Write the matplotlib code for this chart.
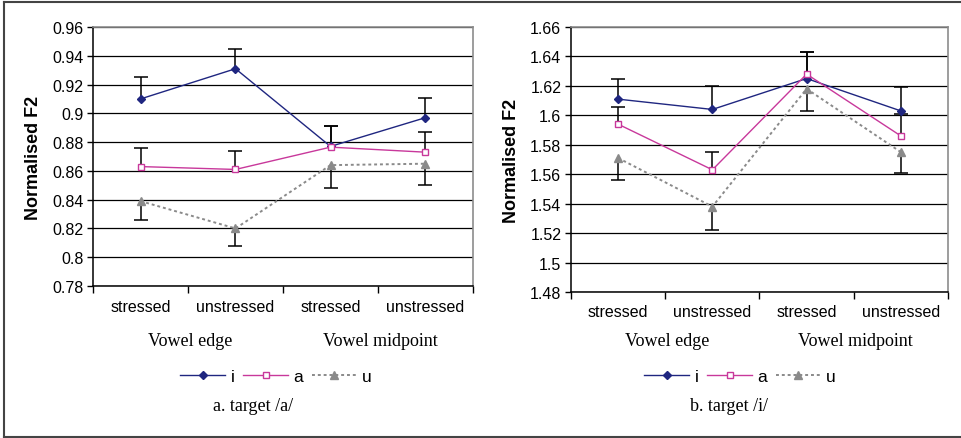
import matplotlib
matplotlib.use("Agg")
import matplotlib.pyplot as plt
import matplotlib.transforms as mtrans
from matplotlib.ticker import FuncFormatter, MultipleLocator
import numpy as np

# categories
conditions = ["stressed", "unstressed", "stressed", "unstressed"]
groups = ["Vowel edge", "Vowel midpoint"]
vowels = ["i", "a", "u"]

# panel a: target /a/
a_i = [0.910, 0.931, 0.877, 0.897]
a_i_err = [0.015, 0.014, 0.014, 0.014]
a_a = [0.863, 0.861, 0.8765, 0.873]
a_a_err = [0.013, 0.013, 0.0145, 0.014]
a_u = [0.839, 0.820, 0.864, 0.865]
a_u_err = [0.013, 0.012, 0.016, 0.015]

# panel b: target /i/
b_i = [1.611, 1.604, 1.625, 1.603]
b_i_err = [0.014, 0.016, 0.018, 0.016]
b_a = [1.594, 1.563, 1.628, 1.586]
b_a_err = [0.012, 0.012, 0.015, 0.015]
b_u = [1.571, 1.538, 1.618, 1.575]
b_u_err = [0.015, 0.016, 0.015, 0.014]

NAVY = "#1f2680"
PINK = "#c8389b"
GREY = "#8a8a8a"

sans = ["Liberation Sans", "DejaVu Sans"]
serif = ["Liberation Serif", "DejaVu Serif"]


def draw_panel(ax, data, errs, ylim, pad, caption, cx, cap_x):
    x = np.arange(len(conditions)) + 0.5
    styles = [
        dict(color=NAVY, marker="D", markersize=4.5, mfc=NAVY, mec=NAVY, lw=1.0, ls="-"),
        dict(color=PINK, marker="s", markersize=5, mfc="white", mec=PINK, mew=1.0, lw=1.0, ls="-"),
        dict(color=GREY, marker="^", markersize=6, mfc=GREY, mec=GREY, lw=1.4, ls=(0, (1.5, 1.5))),
    ]
    handles = []
    for k, (vals, err, st) in enumerate(zip(data, errs, styles)):
        zero = [0] * len(err)
        # i and a have plus-only bars, u has minus-only bars
        yerr = [zero, err] if k < 2 else [err, zero]
        _, caps, _ = ax.errorbar(x, vals, yerr=yerr, fmt="none", ecolor="black",
                                 elinewidth=1.1, capsize=5, capthick=1.1, zorder=3)
        # hide the cap sitting on the marker
        caps[0 if k < 2 else 1].set_visible(False)
        h, = ax.plot(x, vals, zorder=4, label=vowels[k], **st)
        handles.append(h)

    ax.set_xlim(0, 4)
    ax.set_ylim(*ylim)
    ax.yaxis.set_major_locator(MultipleLocator(0.02))
    ax.yaxis.set_major_formatter(FuncFormatter(lambda v, p: f"{round(v, 2):g}"))
    ax.grid(axis="y", color="black", lw=0.9)
    ax.set_axisbelow(True)

    ax.set_xticks([0, 1, 2, 3, 4])
    ax.set_xticklabels([])
    ax.set_xticks(x, minor=True)
    ax.set_xticklabels(conditions, minor=True, fontsize=11.5, family=sans)
    ax.tick_params(axis="x", which="major", direction="out", length=5, width=1)
    ax.tick_params(axis="x", which="minor", length=0, pad=pad)
    ax.tick_params(axis="y", direction="out", length=4, width=1, labelsize=11.5, pad=3)
    for lab in ax.get_yticklabels():
        lab.set_family(sans)

    for s in ["top", "right"]:
        ax.spines[s].set_color("#8c8c8c")
        ax.spines[s].set_linewidth(1.2)
    for s in ["left", "bottom"]:
        ax.spines[s].set_color("black")
        ax.spines[s].set_linewidth(1.1)

    ax.set_ylabel("Normalised F2", fontsize=13, fontweight="bold", family=sans, labelpad=7)

    tr = mtrans.blended_transform_factory(ax.transData, fig.transFigure)
    for gx, g in zip([1.02, 3.02], groups):
        ax.text(gx, 1 - 342 / 439, g, transform=tr, ha="center", va="center",
                fontsize=13, family=serif)

    fig.legend(handles=handles, loc="center", bbox_to_anchor=(cx, 1 - 377 / 439),
               ncol=3, frameon=False, handlelength=2.6, handletextpad=0.3,
               columnspacing=0.5, prop={"family": sans, "size": 12.5})
    fig.text(cap_x, 1 - 407 / 439, caption, ha="center", va="center",
             fontsize=13, family=serif)


fig = plt.figure(figsize=(9.62, 4.39), dpi=100)
ax1 = fig.add_axes([93 / 962, 1 - 287 / 439, 380 / 962, 259 / 439])
ax2 = fig.add_axes([571 / 962, 1 - 293 / 439, 377 / 962, 265 / 439])

draw_panel(ax1, [a_i, a_a, a_u], [a_i_err, a_a_err, a_u_err], (0.78, 0.96), 9,
           "a. target /a/", 276 / 962, 253 / 962)
draw_panel(ax2, [b_i, b_a, b_u], [b_i_err, b_a_err, b_u_err], (1.48, 1.66), 8.5,
           "b. target /i/", 740 / 962, 729 / 962)

# outer frame
fig.add_artist(plt.Line2D([3.5 / 962, 3.5 / 962], [1 - 437.5 / 439, 1 - 3 / 439],
                          transform=fig.transFigure, color="#444444", lw=1.5))
fig.add_artist(plt.Line2D([3.5 / 962, 1.0], [1 - 3 / 439, 1 - 3 / 439],
                          transform=fig.transFigure, color="#444444", lw=1.5))
fig.add_artist(plt.Line2D([3.5 / 962, 1.0], [1 - 437.5 / 439, 1 - 437.5 / 439],
                          transform=fig.transFigure, color="#444444", lw=1.5))

fig.savefig("out.png", dpi=100)
